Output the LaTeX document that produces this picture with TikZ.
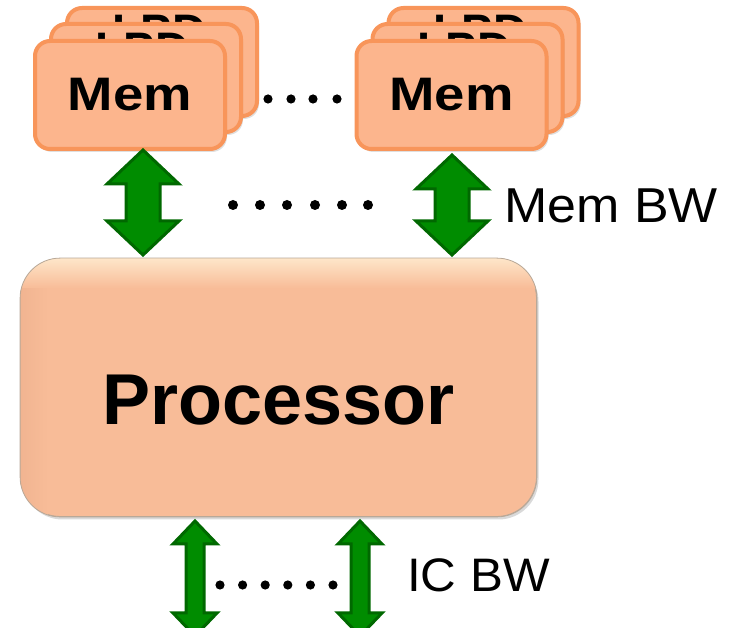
\documentclass[tikz,border=0pt]{standalone}
\usepackage{fontspec}
\setmainfont{Liberation Sans}
\usetikzlibrary{calc,shadows}

\definecolor{cardfill}{HTML}{FCB58D}
\definecolor{cardedge}{HTML}{F8955A}
\definecolor{procfill}{HTML}{F8BC98}
\definecolor{proctop}{HTML}{FEE6C9}
\definecolor{procside}{HTML}{F1B491}
\definecolor{procedge}{HTML}{B8A898}
\definecolor{arrowfill}{HTML}{008C00}
\definecolor{arrowedge}{HTML}{006800}

\tikzset{
  memcard/.style={draw=cardedge, fill=cardfill, line width=4pt,
    rounded corners=15pt, minimum width=190pt, minimum height=108pt,
    inner sep=0pt,
    drop shadow={opacity=0.25, shadow xshift=2pt, shadow yshift=-3pt},
    font=\fontsize{47}{50}\selectfont\bfseries},
  backtext/.style={anchor=base west, inner sep=0pt,
    font=\fontsize{47}{50}\selectfont\bfseries},
  busarrowstyle/.style={fill=arrowfill, draw=arrowedge, line width=3pt,
    line join=miter},
  dotmark/.style={fill=black},
  bwlabel/.style={anchor=base west, inner sep=0pt},
}

% vertical double-headed bus arrow between two named points
% #1 upper tip, #2 lower tip, #3 half head width, #4 half shaft width,
% #5 head length
\newcommand\busarrow[5]{%
  \filldraw[busarrowstyle] (#1) -- ($(#1)+(#3,#5)$) -- ($(#1)+(#4,#5)$)
    -- ($(#2)+(#4,-#5)$) -- ($(#2)+(#3,-#5)$) -- (#2)
    -- ($(#2)+(-#3,-#5)$) -- ($(#2)+(-#4,-#5)$)
    -- ($(#1)+(-#4,#5)$) -- ($(#1)+(-#3,#5)$) -- cycle;}

\begin{document}
\begin{tikzpicture}[x=1pt, y=-1pt]
\useasboundingbox (0,0) rectangle (732,628);
\clip (0,0) rectangle (732,628);

% ---- left memory stack ----
\node[memcard] (memLa) at (162,62) {};
\node[backtext] (lpdLa) at (112,48) {LPD};
\node[memcard] (memLb) at (146,78) {};
\node[backtext] (lpdLb) at (95,66) {LPD};
\node[memcard] (memL) at (130,95) {\scalebox{1.16}[1]{Mem}};

% ---- right memory stack ----
\node[memcard] (memRa) at (483.5,62) {};
\node[backtext] (lpdRa) at (433,48) {LPD};
\node[memcard] (memRb) at (467.5,78) {};
\node[backtext] (lpdRb) at (417,66) {LPD};
\node[memcard] (memR) at (451.5,95) {\scalebox{1.16}[1]{Mem}};

% dots between the stacks
\foreach \x in {268,291,313,337} \fill[dotmark] (\x,99) circle (4.6);

% ---- processor ----
\node[draw=procedge, line width=0.8pt, fill=procfill, rounded corners=40pt,
      minimum width=516pt, minimum height=258pt, inner sep=0pt,
      drop shadow={opacity=0.3, shadow xshift=2pt, shadow yshift=-3pt}]
      (proc) at (278.5,387.5) {};
\begin{scope}
  \clip[rounded corners=40pt] (proc.north west) rectangle (proc.south east);
  \shade[top color=proctop, bottom color=procfill]
    (proc.north west) rectangle ($(proc.north east)+(0,30)$);
  \shade[left color=procside, right color=procfill]
    ($(proc.north west)+(0,30)$) rectangle ($(proc.south west)+(28,0)$);
\end{scope}
\draw[procedge, line width=0.8pt, rounded corners=40pt]
  (proc.north west) rectangle (proc.south east);
\node[anchor=base, inner sep=0pt, font=\fontsize{72}{76}\selectfont\bfseries]
  (proctext) at (278.5,425) {Processor};

% ---- memory bandwidth arrows ----
\coordinate (mLt) at (143,150);
\coordinate (mLb) at (143,255);
\coordinate (mRt) at (452,155);
\coordinate (mRb) at (452,255);
\busarrow{mLt}{mLb}{36}{17}{34}
\busarrow{mRt}{mRb}{36}{17}{34}
\foreach \x in {233,260,287,315,342,368} \fill[dotmark] (\x,205) circle (5);
\node[bwlabel, font=\fontsize{49}{52}\selectfont] (membw) at (504,223)
  {\scalebox{1.06}[1]{Mem BW}};

% ---- interconnect bandwidth arrows ----
\coordinate (iLt) at (195,521);
\coordinate (iLb) at (195,636);
\coordinate (iRt) at (360,521);
\coordinate (iRb) at (360,636);
\busarrow{iLt}{iLb}{22}{9}{23}
\busarrow{iRt}{iRb}{22}{9}{23}
\foreach \x in {220,242.6,265.2,287.8,310.4,333} \fill[dotmark] (\x,585) circle (4.6);
\node[bwlabel, font=\fontsize{47}{50}\selectfont] (icbw) at (407,592)
  {\scalebox{1.05}[1]{IC BW}};
\end{tikzpicture}
\end{document}
